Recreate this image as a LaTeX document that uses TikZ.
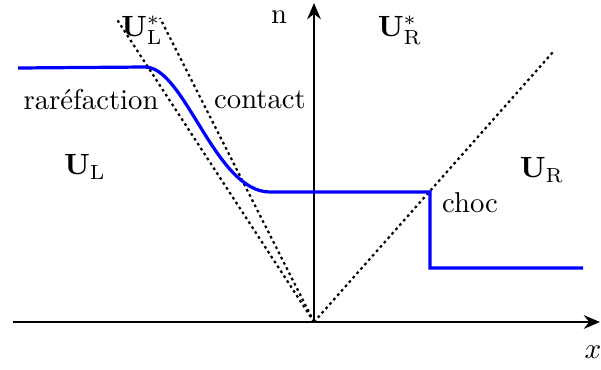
\documentclass[tikz,border=0pt]{standalone}
\usetikzlibrary{arrows.meta}
\begin{document}
\begin{tikzpicture}[>={Stealth[length=5.5pt,width=4.6pt]},
 ax/.style={->,line width=0.95pt,black},
 wave/.style={dash pattern=on 0.9pt off 1.1pt,line width=0.75pt},
 sol/.style={blue,line width=1.1pt},
 lbl/.style={inner sep=1pt,font=\fontsize{9.8}{11}\selectfont}]
\useasboundingbox (-3.768,-0.564) rectangle (3.444,3.864);
\coordinate (O) at (0,0);
\coordinate (xl) at (-3.612,0);
\coordinate (xr) at (3.432,0);
\coordinate (nt) at (0,3.828);
\coordinate (r1) at (-2.376,3.648);
\coordinate (r2) at (-1.848,3.648);
\coordinate (s1) at (2.868,3.24);
\coordinate (cs) at (1.392,1.56);
% axes
\draw[ax] (xl)--(xr);
\draw[ax] (O)--(nt);
% ondes
\draw[wave] (O)--(r1);
\draw[wave] (O)--(r2);
\draw[wave] (O)--(s1);
% solution
\draw[sol] (-3.552,3.048)--(-2.028,3.06) .. controls (-1.548,3.06) and (-1.188,1.56) .. (-0.528,1.56)--(cs)--(1.392,0.648)--(3.228,0.648);
% etats
\node[lbl] (ul) at (-2.748,1.86) {$\mathbf{U}_{\mathrm{L}}$};
\node[lbl] (ur) at (2.736,1.824) {$\mathbf{U}_{\mathrm{R}}$};
\node[lbl] (uls) at (-2.064,3.504) {$\mathbf{U}_{\mathrm{L}}^{*}$};
\node[lbl] (urs) at (1.032,3.504) {$\mathbf{U}_{\mathrm{R}}^{*}$};
\node[lbl] (rar) at (-2.676,2.664) {raréfaction};
\node[lbl] (con) at (-0.648,2.664) {contact};
\node[lbl] (cho) at (1.872,1.428) {choc};
\node[lbl] (nl) at (-0.42,3.66) {n};
\node[lbl] (xlb) at (3.348,-0.36) {$x$};
\end{tikzpicture}
\end{document}
